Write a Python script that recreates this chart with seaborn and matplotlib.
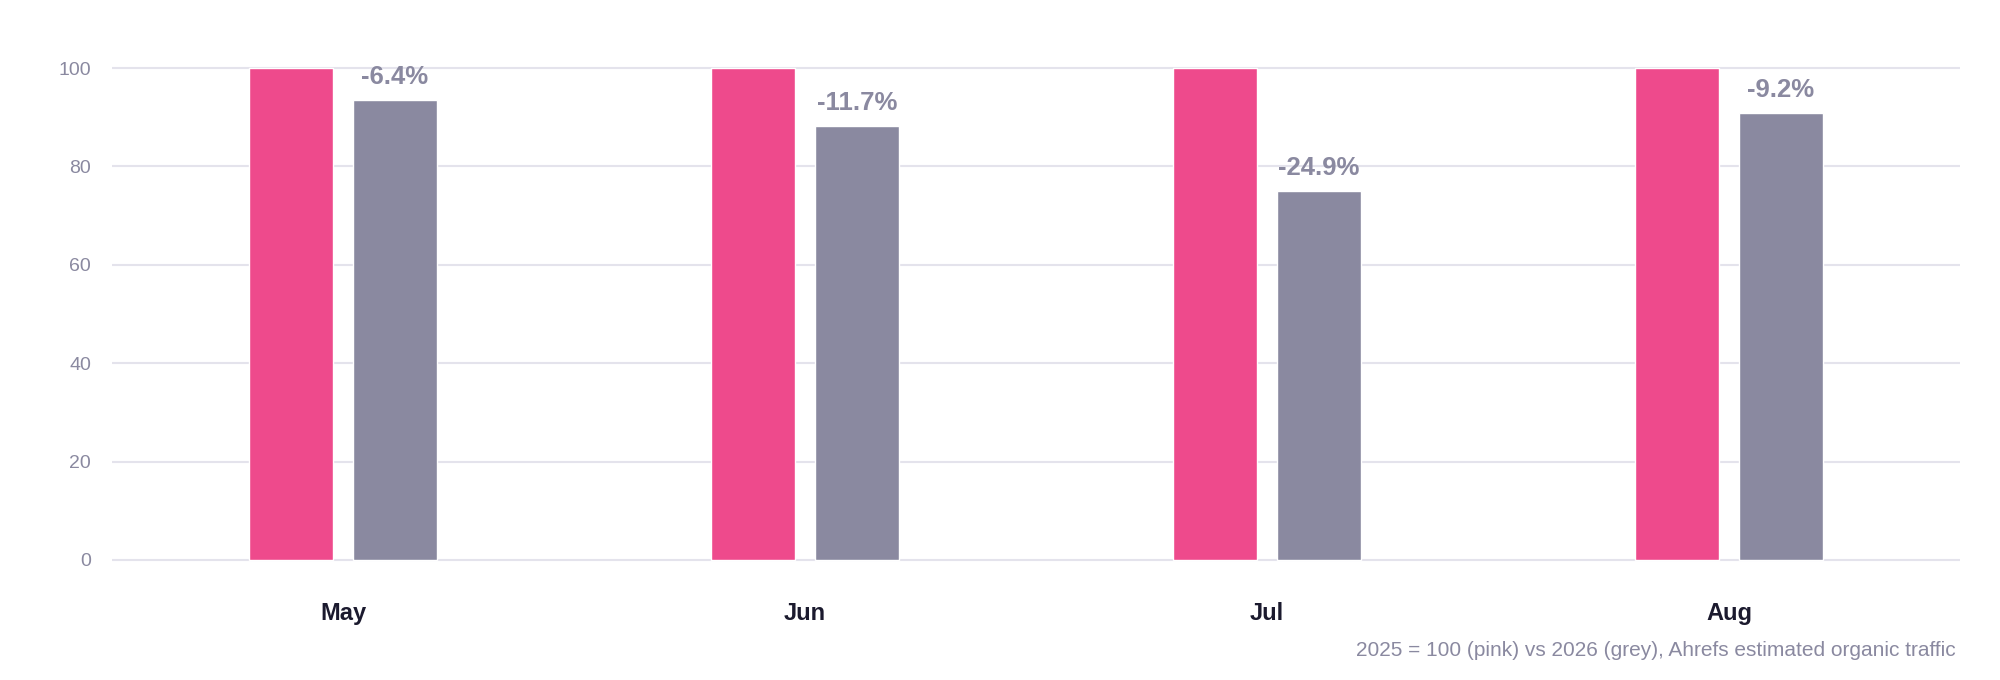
import matplotlib.pyplot as plt
import pandas as pd
import seaborn as sns

months = ["May", "Jun", "Jul", "Aug"]
traffic_2025 = [100, 100, 100, 100]
traffic_2026 = [93.6, 88.3, 75.1, 90.8]
change_labels = ["-6.4%", "-11.7%", "-24.9%", "-9.2%"]
y_ticks = [0, 20, 40, 60, 80, 100]
footnote = "2025 = 100 (pink) vs 2026 (grey), Ahrefs estimated organic traffic"

PINK = "#EE4A8C"
GREY = "#8A89A0"
DARK = "#1B1A2E"
GRID = "#E4E3EC"


def build_frame() -> pd.DataFrame:
    return pd.DataFrame(
        {
            "Month": months * 2,
            "Value": traffic_2025 + traffic_2026,
            "Year": ["2025"] * len(months) + ["2026"] * len(months),
        }
    )


def main():
    sns.set_style("white")
    plt.rcParams["font.family"] = ["Liberation Sans", "DejaVu Sans"]

    fig = plt.figure(figsize=(20, 6.8), dpi=100)
    ax = fig.add_axes([0.056, 0.1693, 0.924, 0.7379])

    sns.barplot(
        data=build_frame(),
        x="Month",
        y="Value",
        hue="Year",
        palette={"2025": PINK, "2026": GREY},
        width=0.45,
        gap=0.2,
        legend=False,
        saturation=1,
        ax=ax,
    )

    # change labels above the grey bars
    for bar, label in zip(ax.containers[1], change_labels):
        ax.annotate(
            label,
            (bar.get_x() + bar.get_width() / 2, bar.get_height()),
            xytext=(0, 11.5),
            textcoords="offset points",
            ha="center",
            va="baseline",
            fontsize=18.5,
            fontweight="bold",
            color=GREY,
            annotation_clip=False,
        )

    ax.set_xlim(-0.5, 3.5)
    ax.set_ylim(-1, 101)
    ax.set_yticks(y_ticks)
    ax.set_xlabel("")
    ax.set_ylabel("")
    ax.grid(True, axis="y", color=GRID, linewidth=1.5)
    ax.set_axisbelow(True)
    sns.despine(ax=ax, left=True, bottom=True)

    ax.tick_params(axis="y", length=0, pad=15, labelsize=14, labelcolor=GREY)
    ax.tick_params(axis="x", length=0, pad=27, labelsize=17, labelcolor=DARK)
    for lbl in ax.get_xticklabels():
        lbl.set_fontweight("bold")

    fig.text(0.978, 0.035, footnote, ha="right", va="baseline", fontsize=15, color=GREY)

    fig.savefig("out.png", dpi=100, facecolor="white")


if __name__ == "__main__":
    main()
